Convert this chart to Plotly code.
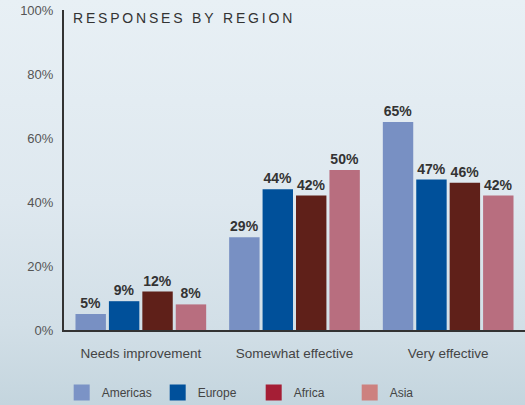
import base64
import plotly.graph_objects as go

categories = ["Needs improvement", "Somewhat effective", "Very effective"]
regions = ["Americas", "Europe", "Africa", "Asia"]
americas = [5, 29, 65]
europe = [9, 44, 47]
africa = [12, 42, 46]
asia = [8, 50, 42]
series = [americas, europe, africa, asia]
y_ticks = [0, 20, 40, 60, 80, 100]
y_tick_labels = ["0%", "20%", "40%", "60%", "80%", "100%"]

bar_colors = ["#7890C3", "#00509A", "#5F2019", "#B86E7F"]
legend_colors = ["#7B93C6", "#00509B", "#A51E35", "#CD817F"]

W, H = 525, 405
L, R, T, B = 64, 0, 10, 75

fig = go.Figure()
for name, vals, c in zip(regions, series, bar_colors):
    fig.add_trace(go.Bar(
        x=categories, y=vals, name=name, marker=dict(color=c, line=dict(width=0)),
        text=[f"{v}%" for v in vals], textposition="outside", cliponaxis=False,
        textfont=dict(family="Liberation Sans, Arial, sans-serif", size=14, color="#333333", weight="bold"),
        showlegend=False, hoverinfo="skip",
    ))
for name, c in zip(regions, legend_colors):
    fig.add_trace(go.Scatter(
        x=[None], y=[None], mode="markers", name=name,
        marker=dict(symbol="square", size=17, color=c),
        showlegend=True,
    ))

svg = ('<svg xmlns="http://www.w3.org/2000/svg" width="525" height="405">'
       '<defs><linearGradient id="g" x1="0" y1="0" x2="0" y2="1">'
       '<stop offset="0" stop-color="#E8F0F5"/>'
       '<stop offset="0.5" stop-color="#DEE8EF"/>'
       '<stop offset="0.8" stop-color="#D2DFE7"/>'
       '<stop offset="1" stop-color="#C4D5DE"/>'
       '</linearGradient></defs><rect width="525" height="405" fill="url(#g)"/></svg>')
src = "data:image/svg+xml;base64," + base64.b64encode(svg.encode()).decode()
pw, ph = W - L - R, H - T - B

title_text = "\u2009".join("RESPONSES BY REGION")

fig.update_layout(
    width=W, height=H,
    margin=dict(l=L, r=R, t=T, b=B, pad=0, autoexpand=False),
    paper_bgcolor="#DCE6EE", plot_bgcolor="rgba(0,0,0,0)",
    barmode="group", bargap=0.13, bargroupgap=0.09,
    font=dict(family="Liberation Sans, Arial, sans-serif", color="#444444"),
    images=[dict(source=src, xref="paper", yref="paper", x=-L / pw, y=1 + T / ph,
                 sizex=W / pw, sizey=H / ph, xanchor="left", yanchor="top",
                 sizing="stretch", layer="below")],
    xaxis=dict(range=[-0.5, 2.5], showline=True, linecolor="#333333", linewidth=2,
               showgrid=False, zeroline=False, ticks="", ticklabelstandoff=10,
               tickfont=dict(size=13.5, color="#444444")),
    yaxis=dict(range=[0, 100], tickvals=y_ticks, ticktext=y_tick_labels,
               showline=True, linecolor="#333333", linewidth=2, showgrid=False,
               zeroline=False, ticks="", ticklabelstandoff=6,
               tickfont=dict(size=13, color="#555555")),
    legend=dict(orientation="h", x=-0.005, xanchor="left", y=-0.15, yanchor="top",
                entrywidth=51, entrywidthmode="pixels", bgcolor="rgba(0,0,0,0)",
                font=dict(size=12, color="#444444"), itemclick=False, itemdoubleclick=False),
    annotations=[dict(text=title_text, xref="paper", yref="paper", x=0.016, y=0.975,
                      xanchor="left", yanchor="middle", showarrow=False,
                      font=dict(size=14, color="#333333"))],
    showlegend=True,
)

fig.write_html("out.html", config={"displayModeBar": False, "staticPlot": True},
               post_script="document.body.style.margin='0';document.body.style.overflow='hidden';")
